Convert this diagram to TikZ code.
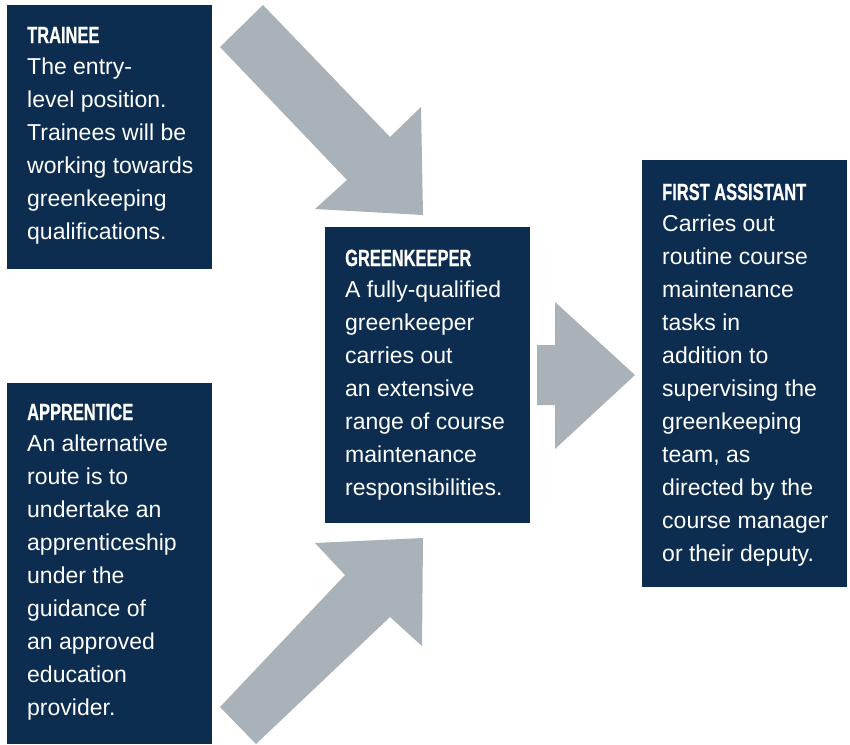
\documentclass[tikz,border=0pt]{standalone}
\usepackage{fontspec}
\setmainfont{Liberation Sans}
\newfontfamily\hfont[FakeStretch=0.70,FakeBold=0.6]{Liberation Sans}
\definecolor{navy}{RGB}{12,45,80}
\definecolor{arrowgray}{RGB}{168,178,184}
\begin{document}
\begin{tikzpicture}[x=1pt,y=-1pt,
  box/.style={rectangle, fill=navy, draw=none, inner sep=0pt, anchor=north west},
  txt/.style={anchor=base west, inner sep=0pt, text=white},
  blockarrow/.style={fill=arrowgray, draw=none}]
\useasboundingbox (0,0) rectangle (850,744);
\newcommand{\hd}[1]{{\hfont\bfseries\fontsize{23.5}{33}\selectfont #1}\\[-2pt]}
\newcommand{\bodyfmt}{\fontsize{23}{33}\selectfont}
% boxes
\node[box, minimum width=205pt, minimum height=264pt] (trainee) at (7,5) {};
\node[box, minimum width=205pt, minimum height=361pt] (apprentice) at (7,383) {};
\node[box, minimum width=205pt, minimum height=296pt] (greenkeeper) at (325,227) {};
\node[box, minimum width=205pt, minimum height=427pt] (first) at (642,160) {};
% arrows
\fill[blockarrow] (220,47) -- (263,5) -- (390,137) -- (421,107) -- (423,215) -- (315,209) -- (347,180) -- cycle;
\fill[blockarrow] (220,707) -- (345,575) -- (315,543) -- (423,538) -- (422,646) -- (390,617) -- (256,744) -- cycle;
\fill[blockarrow] (537,345) -- (555,345) -- (555,302) -- (635,375) -- (555,449) -- (555,405) -- (537,405) -- cycle;
% texts
\node[txt] (traineetext) at ([xshift=20pt,yshift=-38pt]trainee.north west)
  {\parbox[t]{190pt}{\bodyfmt\hd{TRAINEE}The entry-\\level position.\\Trainees will be\\working towards\\greenkeeping\\qualifications.}};
\node[txt] (apprenticetext) at ([xshift=20pt,yshift=-37pt]apprentice.north west)
  {\parbox[t]{190pt}{\bodyfmt\hd{APPRENTICE}An alternative\\route is to\\undertake an\\apprenticeship\\under the\\guidance of\\an approved\\education\\provider.}};
\node[txt] (greenkeepertext) at ([xshift=20pt,yshift=-39pt]greenkeeper.north west)
  {\parbox[t]{190pt}{\bodyfmt\hd{GREENKEEPER}A fully-qualified\\greenkeeper\\carries out\\an extensive\\range of course\\maintenance\\responsibilities.}};
\node[txt] (firsttext) at ([xshift=20pt,yshift=-40pt]first.north west)
  {\parbox[t]{190pt}{\bodyfmt\hd{FIRST ASSISTANT}Carries out\\routine course\\maintenance\\tasks in\\addition to\\supervising the\\greenkeeping\\team, as\\directed by the\\course manager\\or their deputy.}};
\end{tikzpicture}
\end{document}
